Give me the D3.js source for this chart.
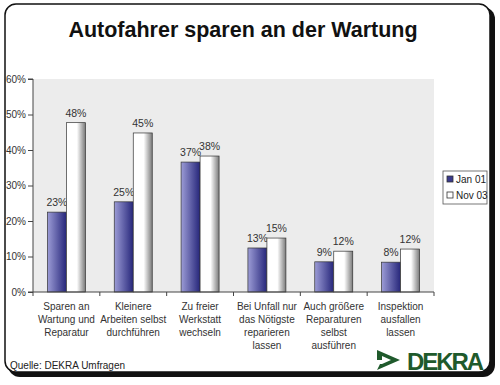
<!DOCTYPE html>
<html>
<head>
<meta charset="utf-8">
<script src="https://cdn.jsdelivr.net/npm/d3@7"></script>
<style>
  body { margin: 0; background: #fff; }
  text { font-family: "Liberation Sans", Arial, sans-serif; }
</style>
</head>
<body>
<div id="wrapper"></div>
<script>
const categories = [
  ["Sparen an", "Wartung und", "Reparatur"],
  ["Kleinere", "Arbeiten selbst", "durchführen"],
  ["Zu freier", "Werkstatt", "wechseln"],
  ["Bei Unfall nur", "das Nötigste", "reparieren", "lassen"],
  ["Auch größere", "Reparaturen", "selbst", "ausführen"],
  ["Inspektion", "ausfallen", "lassen"]
];
const seriesNames = ["Jan 01", "Nov 03"];
const jan01 = [22.5, 25.4, 36.6, 12.4, 8.5, 8.4];
const nov03 = [47.7, 44.8, 38.3, 15.2, 11.5, 12.1];
const jan01Labels = ["23%", "25%", "37%", "13%", "9%", "8%"];
const nov03Labels = ["48%", "45%", "38%", "15%", "12%", "12%"];
const yTicks = [0, 10, 20, 30, 40, 50, 60];

// 1. dimensions
const dimensions = {
  width: 500,
  height: 385,
  plotLeft: 33,
  plotRight: 434,
  plotTop: 79,
  plotBottom: 292
};

// 2. canvas
const svg = d3.select("#wrapper")
  .append("svg")
    .attr("width", dimensions.width)
    .attr("height", dimensions.height);

const defs = svg.append("defs");
const janGrad = defs.append("linearGradient").attr("id", "janGrad");
janGrad.append("stop").attr("offset", "0%").attr("stop-color", "#9c9cd6");
janGrad.append("stop").attr("offset", "100%").attr("stop-color", "#26267a");
const novGrad = defs.append("linearGradient").attr("id", "novGrad");
novGrad.append("stop").attr("offset", "0%").attr("stop-color", "#ffffff");
novGrad.append("stop").attr("offset", "55%").attr("stop-color", "#ffffff");
novGrad.append("stop").attr("offset", "100%").attr("stop-color", "#7a7a7a");

// frame with shadow
svg.append("rect")
  .attr("x", 8).attr("y", 7)
  .attr("width", 487).attr("height", 370)
  .attr("rx", 12)
  .attr("fill", "#111");
svg.append("rect")
  .attr("x", 5).attr("y", 4)
  .attr("width", 485).attr("height", 368)
  .attr("rx", 11)
  .attr("fill", "#fff")
  .attr("stroke", "#111")
  .attr("stroke-width", 1.5);

svg.append("text")
  .attr("x", 243).attr("y", 37)
  .attr("text-anchor", "middle")
  .attr("font-size", 21.5)
  .attr("font-weight", "bold")
  .attr("fill", "#111")
  .text("Autofahrer sparen an der Wartung");

// 3. scales
const xScale = d3.scaleBand()
  .domain(d3.range(categories.length))
  .range([dimensions.plotLeft, dimensions.plotRight]);

const yScale = d3.scaleLinear()
  .domain([0, 60])
  .range([dimensions.plotBottom, dimensions.plotTop]);

const barWidth = 19;

svg.append("rect")
  .attr("x", dimensions.plotLeft)
  .attr("y", dimensions.plotTop)
  .attr("width", dimensions.plotRight - dimensions.plotLeft)
  .attr("height", dimensions.plotBottom - dimensions.plotTop)
  .attr("fill", "#ececec");

// 4. bars
const series = [
  { values: jan01, labels: jan01Labels, fill: "url(#janGrad)", offset: -barWidth },
  { values: nov03, labels: nov03Labels, fill: "url(#novGrad)", offset: 0 }
];

series.forEach(s => {
  const center = i => xScale(i) + xScale.bandwidth() / 2;
  svg.append("g").selectAll("rect")
    .data(s.values)
    .join("rect")
      .attr("x", (d, i) => center(i) + s.offset)
      .attr("y", d => yScale(d))
      .attr("width", barWidth)
      .attr("height", d => yScale(0) - yScale(d))
      .attr("fill", s.fill)
      .attr("stroke", "#333")
      .attr("stroke-width", 0.7);

  svg.append("g").selectAll("text")
    .data(s.values)
    .join("text")
      .attr("x", (d, i) => center(i) + s.offset + barWidth / 2)
      .attr("y", d => yScale(d) - 6)
      .attr("text-anchor", "middle")
      .attr("font-size", 10.5)
      .attr("fill", "#333")
      .text((d, i) => s.labels[i]);
});

// 5. axes
const yAxis = svg.append("g")
  .attr("transform", `translate(${dimensions.plotLeft},0)`)
  .call(d3.axisLeft(yScale).tickValues(yTicks).tickSize(5).tickPadding(2).tickFormat(d => d + "%"));
yAxis.selectAll("text").attr("font-size", 10).attr("fill", "#333")
  .attr("font-family", "Liberation Sans, Arial, sans-serif");
yAxis.select(".domain").attr("d", `M-5,${dimensions.plotTop}H0V${dimensions.plotBottom}H-5`).attr("stroke", "#444");
yAxis.selectAll("line").attr("stroke", "#444");

const xAxis = svg.append("g")
  .attr("transform", `translate(0,${dimensions.plotBottom})`);
xAxis.append("line")
  .attr("x1", dimensions.plotLeft).attr("x2", dimensions.plotRight)
  .attr("stroke", "#444");
xAxis.selectAll(".tick")
  .data(d3.range(categories.length + 1))
  .join("line")
    .attr("x1", i => i < categories.length ? xScale(i) : dimensions.plotRight)
    .attr("x2", i => i < categories.length ? xScale(i) : dimensions.plotRight)
    .attr("y2", 4)
    .attr("stroke", "#444");

categories.forEach((lines, i) => {
  const t = svg.append("text")
    .attr("text-anchor", "middle")
    .attr("font-size", 10)
    .attr("fill", "#333");
  lines.forEach((line, j) => {
    t.append("tspan")
      .attr("x", xScale(i) + xScale.bandwidth() / 2)
      .attr("y", 310 + j * 13)
      .text(line);
  });
});

// 6. legend
const legend = svg.append("g").attr("transform", "translate(443,171)");
legend.append("rect")
  .attr("width", 44).attr("height", 33)
  .attr("fill", "#fff").attr("stroke", "#555").attr("stroke-width", 0.8);
seriesNames.forEach((name, i) => {
  legend.append("rect")
    .attr("x", 4).attr("y", 5 + i * 16)
    .attr("width", 6).attr("height", 6)
    .attr("fill", i === 0 ? "#3a3a8c" : "#fff")
    .attr("stroke", "#333").attr("stroke-width", 0.8);
  legend.append("text")
    .attr("x", 13).attr("y", 12 + i * 16)
    .attr("font-size", 10)
    .attr("fill", "#222")
    .text(name);
});

// 7. footer
svg.append("text")
  .attr("x", 10).attr("y", 369)
  .attr("font-size", 10)
  .attr("fill", "#222")
  .text("Quelle: DEKRA Umfragen");

const logo = svg.append("g").attr("fill", "#1f5a2c");
logo.append("path")
  .attr("fill-rule", "evenodd")
  .attr("d", "M377,350 L400,360 L377,370 L380,364 L382,364 L391,360 L382,356 L382,360 L377,360 Z");
logo.append("text")
  .attr("x", 407).attr("y", 370)
  .attr("font-size", 24)
  .attr("font-weight", "bold")
  .attr("textLength", 77)
  .attr("lengthAdjust", "spacing")
  .text("DEKRA");
</script>
</body>
</html>
